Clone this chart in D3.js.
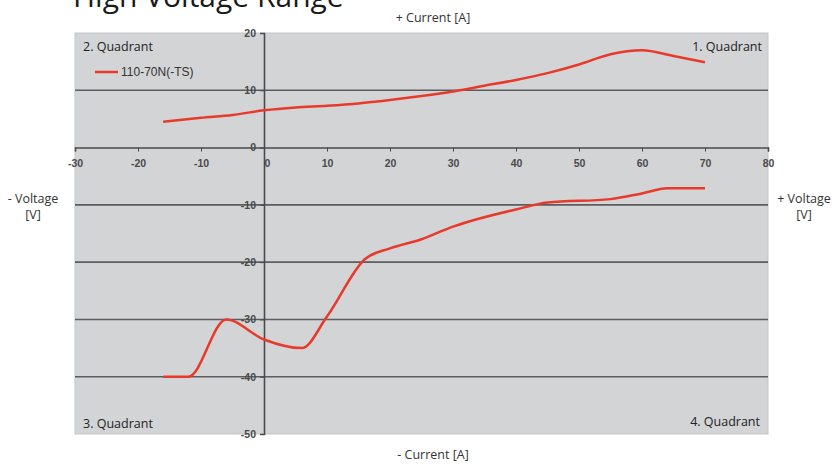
<!DOCTYPE html>
<html>
<head>
<meta charset="utf-8">
<script src="https://cdn.jsdelivr.net/npm/d3@7"></script>
<style>
  body { margin: 0; background: #fff; }
  text { font-family: "Open Sans", "Noto Sans", sans-serif; }
</style>
</head>
<body>
<div id="chart"></div>
<script>
// data: current [A] vs voltage [V]
var seriesName = "110-70N(-TS)";
var upperCurrent = [-16, -10, -5, 0, 5, 10, 15, 20, 25, 30, 35, 40, 45, 50, 55, 60, 65, 70];
var upperVoltage = [4.5, 5.2, 5.7, 6.5, 7.0, 7.3, 7.7, 8.3, 9.0, 9.8, 10.8, 11.8, 13.0, 14.5, 16.3, 17.0, 16.0, 14.9];
var lowerCurrent = [-16, -12, -6, 0, 6, 10, 16, 20, 25, 30, 40, 45, 55, 60, 64, 70];
var lowerVoltage = [-40, -40, -30, -33.5, -35, -29.5, -19.5, -17.6, -16, -13.8, -10.8, -9.6, -9.0, -8.0, -7.1, -7.1];
var xTicks = [-30, -20, -10, 0, 10, 20, 30, 40, 50, 60, 70, 80];
var yTicks = [20, 10, 0, -10, -20, -30, -40, -50];
var quadrants = ["1. Quadrant", "2. Quadrant", "3. Quadrant", "4. Quadrant"];

var width = 836, height = 466;
var plot = { left: 75, right: 768, top: 33, bottom: 434 };

var svg = d3.select("#chart")
  .append("svg")
    .attr("width", width)
    .attr("height", height);

var x = d3.scaleLinear().domain([-30, 80]).range([plot.left, plot.right]);
var y = d3.scaleLinear().domain([-50, 20]).range([plot.bottom, plot.top]);

// plain hyphen minus like the original
var fmt = function(d){ return String(d) };

// title, cut at the top like the slide
svg.append("text")
  .attr("x", 73).attr("y", 7)
  .style("font-size", "30px")
  .style("fill", "#1a1a1a")
  .text("High Voltage Range");

// plot area
svg.append("rect")
  .attr("x", plot.left).attr("y", plot.top)
  .attr("width", plot.right - plot.left).attr("height", plot.bottom - plot.top)
  .style("fill", "#d3d4d6")
  .style("stroke", "#c4c5c7");

// horizontal gridlines
svg.append("g")
  .selectAll("line")
  .data(yTicks.filter(function(d){ return d != 0 && d != 20 && d != -50 }))
  .enter()
  .append("line")
    .attr("x1", plot.left).attr("x2", plot.right)
    .attr("y1", function(d){ return y(d) }).attr("y2", function(d){ return y(d) })
    .style("stroke", "#5c5d5f")
    .style("stroke-width", 1.6);

// x axis through zero
var xAxis = svg.append("g")
  .attr("transform", "translate(0," + y(0) + ")")
  .call(d3.axisBottom(x).tickValues(xTicks).tickSize(4).tickPadding(8).tickFormat(fmt));
xAxis.select(".domain").style("stroke", "#4a4a4a").style("stroke-width", 1.6);
xAxis.selectAll(".tick line").style("stroke", "#4a4a4a");

// y axis through zero
var yAxis = svg.append("g")
  .attr("transform", "translate(" + x(0) + ",0)")
  .call(d3.axisLeft(y).tickValues(yTicks).tickSize(4).tickPadding(4).tickFormat(fmt));
yAxis.select(".domain").style("stroke", "#4a4a4a").style("stroke-width", 1.6);
yAxis.selectAll(".tick line").style("stroke", "#4a4a4a");

svg.selectAll(".tick text")
  .style("font-size", "10.5px").style("fill", "#4a4a4a").style("font-weight", "bold")
  .style("font-family", "'Liberation Sans', Arial, sans-serif");
// keep the "0" of the x axis off the vertical axis
xAxis.selectAll(".tick").filter(function(d){ return d == 0 })
  .select("text").attr("dx", "3");

// the curve
var line = d3.line()
  .x(function(d){ return x(d[0]) })
  .y(function(d){ return y(d[1]) })
  .curve(d3.curveMonotoneX);

var upper = upperCurrent.map(function(c, i){ return [c, upperVoltage[i]] });
var lower = lowerCurrent.map(function(c, i){ return [c, lowerVoltage[i]] });

svg.append("g")
  .selectAll("path")
  .data([upper, lower])
  .enter()
  .append("path")
    .attr("d", line)
    .style("fill", "none")
    .style("stroke", "#e8392b")
    .style("stroke-width", 2.5);

// legend
svg.append("line")
  .attr("x1", 95).attr("x2", 118).attr("y1", 72).attr("y2", 72)
  .style("stroke", "#e8392b").style("stroke-width", 2.5);
svg.append("text")
  .attr("x", 121).attr("y", 76)
  .style("font-size", "12px").style("fill", "#333")
  .style("font-family", "'Liberation Sans', Arial, sans-serif")
  .text(seriesName);

// quadrant labels
var qPos = [
  { x: plot.right - 6, y: 51, anchor: "end" },
  { x: plot.left + 8, y: 51, anchor: "start" },
  { x: plot.left + 8, y: 428, anchor: "start" },
  { x: plot.right - 8, y: 426, anchor: "end" }
];
svg.append("g")
  .selectAll("text")
  .data(quadrants)
  .enter()
  .append("text")
    .attr("x", function(d, i){ return qPos[i].x })
    .attr("y", function(d, i){ return qPos[i].y })
    .attr("text-anchor", function(d, i){ return qPos[i].anchor })
    .style("font-size", "12.5px").style("fill", "#222")
    .text(function(d){ return d });

// axis titles
svg.append("text")
  .attr("x", 433).attr("y", 22).attr("text-anchor", "middle")
  .style("font-size", "12.5px").style("fill", "#333")
  .text("+ Current [A]");
svg.append("text")
  .attr("x", 433).attr("y", 459).attr("text-anchor", "middle")
  .style("font-size", "12.5px").style("fill", "#333")
  .text("- Current [A]");

var vTitles = [
  { x: 33, lines: ["- Voltage", "[V]"] },
  { x: 804, lines: ["+ Voltage", "[V]"] }
];
vTitles.forEach(function(t){
  t.lines.forEach(function(l, i){
    svg.append("text")
      .attr("x", t.x).attr("y", 203 + i * 16)
      .attr("text-anchor", "middle")
      .style("font-size", "12.5px").style("fill", "#333")
      .text(l);
  });
});
</script>
</body>
</html>
